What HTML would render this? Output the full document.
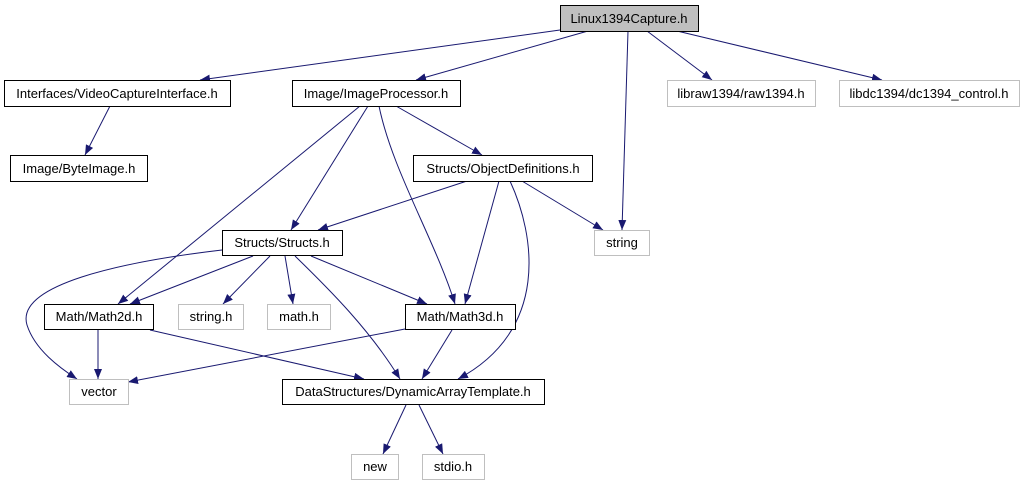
<!DOCTYPE html>
<html><head><meta charset="utf-8"><style>
html,body{margin:0;padding:0;background:#fff;width:1024px;height:485px;overflow:hidden}
text{font-family:"Liberation Sans",sans-serif;font-size:13px;fill:#000}
</style></head><body>
<svg width="1024" height="485" viewBox="0 0 1024 485" xmlns="http://www.w3.org/2000/svg">
<defs><marker id="a" viewBox="0 0 10 8" refX="10" refY="4" markerWidth="10" markerHeight="8" markerUnits="userSpaceOnUse" orient="auto"><path d="M0,0L10,4L0,8Z" fill="#191970"/></marker></defs>
<g fill="none" stroke="#191970" stroke-width="1" marker-end="url(#a)">
<path d="M560,30L200,80"/>
<path d="M588,31L416,80"/>
<path d="M628,31L622,230"/>
<path d="M647,31L712,80"/>
<path d="M677,31L882,80"/>
<path d="M110,106L85,155"/>
<path d="M360,106L118,304"/>
<path d="M368,106L291,230"/>
<path d="M379,106C392,170 435,240 455,304"/>
<path d="M396,106L482,155"/>
<path d="M467,181L318,230"/>
<path d="M499,181L465,304"/>
<path d="M510,181C535,235 550,330 458,379"/>
<path d="M522,181L603,230"/>
<path d="M222,250C120,262 15,285 27,325C35,350 60,368 77,379"/>
<path d="M253,256L130,304"/>
<path d="M270,256L223,304"/>
<path d="M285,256L293,304"/>
<path d="M295,256C330,290 370,330 400,379"/>
<path d="M311,256L427,304"/>
<path d="M98,330L98,379"/>
<path d="M150,330L364,379"/>
<path d="M405,329L128,382"/>
<path d="M452,330L422,379"/>
<path d="M406,405L383,454"/>
<path d="M419,405L443,454"/>
</g>
<g stroke-width="1">
<rect x="560.5" y="5.5" width="138" height="26" fill="#bfbfbf" stroke="#000"/>
<g fill="#fff" stroke="#000">
<rect x="4.5" y="80.5" width="226" height="26"/>
<rect x="292.5" y="80.5" width="168" height="26"/>
<rect x="10.5" y="155.5" width="137" height="26"/>
<rect x="413.5" y="155.5" width="179" height="26"/>
<rect x="222.5" y="230.5" width="120" height="25"/>
<rect x="44.5" y="304.5" width="109" height="25"/>
<rect x="405.5" y="304.5" width="110" height="25"/>
<rect x="282.5" y="379.5" width="262" height="25"/>
</g>
<g fill="#fff" stroke="#bfbfbf">
<rect x="667.5" y="80.5" width="148" height="26"/>
<rect x="839.5" y="80.5" width="180" height="26"/>
<rect x="594.5" y="230.5" width="55" height="25"/>
<rect x="178.5" y="304.5" width="65" height="25"/>
<rect x="267.5" y="304.5" width="63" height="25"/>
<rect x="69.5" y="379.5" width="59" height="25"/>
<rect x="351.5" y="454.5" width="47" height="25"/>
<rect x="422.5" y="454.5" width="62" height="25"/>
</g>
</g>
<g text-anchor="middle">
<text x="629" y="23">Linux1394Capture.h</text>
<text x="117" y="98">Interfaces/VideoCaptureInterface.h</text>
<text x="376" y="98">Image/ImageProcessor.h</text>
<text x="741" y="98">libraw1394/raw1394.h</text>
<text x="929" y="98">libdc1394/dc1394_control.h</text>
<text x="79" y="173">Image/ByteImage.h</text>
<text x="503" y="173">Structs/ObjectDefinitions.h</text>
<text x="282" y="247">Structs/Structs.h</text>
<text x="622" y="247">string</text>
<text x="99" y="321">Math/Math2d.h</text>
<text x="211" y="321">string.h</text>
<text x="299" y="321">math.h</text>
<text x="460" y="321">Math/Math3d.h</text>
<text x="99" y="396">vector</text>
<text x="413" y="396">DataStructures/DynamicArrayTemplate.h</text>
<text x="375" y="471">new</text>
<text x="453" y="471">stdio.h</text>
</g>
</svg>
</body></html>
